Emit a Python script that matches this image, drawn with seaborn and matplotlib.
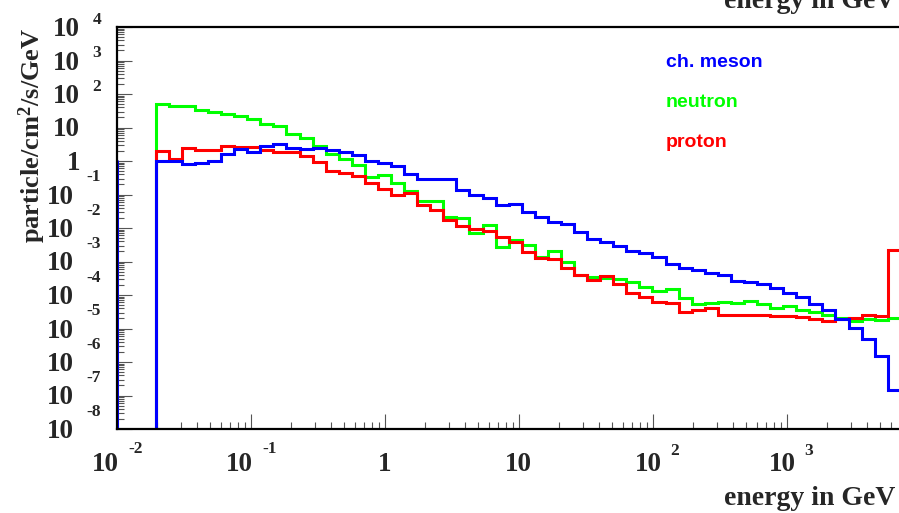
import numpy as np
import pandas as pd
import matplotlib
matplotlib.use("Agg")
import matplotlib.pyplot as plt
import matplotlib.transforms as mtransforms
from matplotlib.ticker import LogLocator, NullFormatter
import seaborn as sns

# ---- energy binning (GeV), logarithmic ----
E_MIN, E_MAX, N_BINS = 0.01955, 7100.0, 57
X_RANGE = (0.01, 7000.0)
Y_RANGE = (1e-8, 1e4)

# ---- flux per bin (particle/cm^2/s/GeV) ----
meson = [0.98, 1.0, 0.80, 0.87, 1.03, 1.66, 2.28, 1.82, 2.75, 3.2,
         2.5, 2.3, 2.44, 2.2, 1.86, 1.48, 0.98, 0.90, 0.69, 0.42,
         0.30, 0.30, 0.30, 0.133, 0.099, 0.079, 0.050, 0.051, 0.030, 0.022,
         0.015, 0.0129, 0.0076, 0.0048, 0.0038, 0.0029, 0.0020, 0.00185, 0.00135, 0.00087,
         0.00064, 0.00055, 0.00046, 0.00039, 0.00026, 0.00024, 0.00021, 0.000162, 0.000117, 0.000087,
         0.000055, 0.000036, 1.87e-5, 1.06e-5, 5.0e-6, 1.48e-6, 1.5e-7]
neutron = [51.7, 43.8, 43.8, 34.2, 29.0, 24.7, 21.6, 17.9, 13.1, 11.4,
           6.6, 4.9, 2.9, 1.62, 1.14, 0.76, 0.33, 0.39, 0.224, 0.13,
           0.062, 0.062, 0.021, 0.020, 0.0072, 0.0124, 0.0028, 0.0045, 0.0031, 0.00135,
           0.0020, 0.00097, 0.00039, 0.00035, 0.00032, 0.00031, 0.00025, 0.000174, 0.000132, 0.000155,
           0.000081, 0.000055, 0.000058, 0.000062, 0.000058, 0.000065, 0.000055, 0.000041, 0.000046, 0.000035,
           0.000032, 2.46e-5, 2.05e-5, 1.67e-5, 1.87e-5, 1.85e-5, 1.99e-5]
proton = [1.99, 1.18, 2.51, 2.19, 2.19, 2.8, 2.6, 2.6, 2.09, 1.82,
          1.91, 1.45, 0.93, 0.52, 0.43, 0.36, 0.224, 0.142, 0.10, 0.112,
          0.049, 0.034, 0.017, 0.0115, 0.0095, 0.0083, 0.0054, 0.0038, 0.0019, 0.0013,
          0.00117, 0.00066, 0.00039, 0.00029, 0.00037, 0.00022, 0.000115, 0.000087, 0.000062, 0.000058,
          0.000032, 0.000035, 0.000041, 0.000026, 0.000026, 0.000026, 0.000026, 0.000024, 0.000024, 2.19e-5,
          1.87e-5, 1.63e-5, 1.87e-5, 2.05e-5, 2.46e-5, 2.30e-5, 0.00226]

# ---- axis labels ----
X_TICK_VALUES = [1e-2, 1e-1, 1.0, 10.0, 1e2, 1e3]
X_TICK_BASE = ["10", "10", "1", "10", "10", "10"]
X_TICK_EXP = ["-2", "-1", "", "", "2", "3"]
Y_TICK_VALUES = [1e4, 1e3, 1e2, 1e1, 1e0, 1e-1, 1e-2, 1e-3, 1e-4, 1e-5, 1e-6, 1e-7, 1e-8]
Y_TICK_BASE = ["10", "10", "10", "10", "1", "10", "10", "10", "10", "10", "10", "10", "10"]
Y_TICK_EXP = ["4", "3", "2", "", "", "-1", "-2", "-3", "-4", "-5", "-6", "-7", "-8"]
X_TITLE = "energy in GeV"
Y_TITLE = r"particle/cm$^{2}$/s/GeV"

SERIES = [  # drawing order: neutron, proton, then mesons on top
    ("neutron", neutron, "#00ff00"),
    ("proton", proton, "#ff0000"),
    ("ch. meson", meson, "#0000ff"),
]
LEGEND_ORDER = ["ch. meson", "neutron", "proton"]

sns.set_theme(style="white")
plt.rcParams.update({
    "font.family": ["Liberation Serif", "DejaVu Serif"],
    "font.weight": "bold",
    "mathtext.fontset": "custom",
    "mathtext.rm": "Liberation Serif:bold",
    "mathtext.it": "Liberation Serif:bold",
    "mathtext.bf": "Liberation Serif:bold",
    "axes.edgecolor": "black",
})

W, H, DPI = 899, 513, 100
fig = plt.figure(figsize=(W / DPI, H / DPI), dpi=DPI)
fig.patch.set_facecolor("white")
L, R, T, B = 116.7, 900.0, 27.0, 429.0
ax = fig.add_axes([L / W, (H - B) / H, (R - L) / W, (B - T) / H])
ax.set_xscale("log")
ax.set_yscale("log")
ax.set_xlim(*X_RANGE)
ax.set_ylim(*Y_RANGE)

edges = np.geomspace(E_MIN, E_MAX, N_BINS + 1)
floor = Y_RANGE[0] * 0.1


def outline(values):
    xs = np.repeat(edges, 2)
    ys = np.concatenate([[floor], np.repeat(values, 2), [floor]])
    return xs, ys


for name, vals, col in SERIES:
    xs, ys = outline(np.asarray(vals, float))
    df = pd.DataFrame({"energy": xs, "flux": ys})
    sns.lineplot(data=df, x="energy", y="flux", sort=False, estimator=None,
                 color=col, linewidth=2.2, legend=False, ax=ax,
                 solid_joinstyle="miter", solid_capstyle="butt")

# meson histogram also runs down the lower frame edge
sns.lineplot(x=[X_RANGE[0] * 1.004] * 2, y=[floor, meson[0]], sort=False,
             estimator=None, color="#0000ff", linewidth=2.2, legend=False, ax=ax)

ax.set_xlabel("")
ax.set_ylabel("")

# frame (ROOT style: ticks inward on bottom/left)
for side in ["top", "left", "bottom"]:
    ax.spines[side].set_linewidth(1.6)
    ax.spines[side].set_color("black")
ax.spines["right"].set_visible(False)
ax.xaxis.set_major_locator(LogLocator(base=10, numticks=20))
ax.xaxis.set_minor_locator(LogLocator(base=10, subs=np.arange(2, 10), numticks=20))
ax.yaxis.set_major_locator(LogLocator(base=10, numticks=30))
ax.yaxis.set_minor_locator(LogLocator(base=10, subs=np.arange(2, 10), numticks=30))
ax.xaxis.set_minor_formatter(NullFormatter())
ax.yaxis.set_minor_formatter(NullFormatter())
ax.tick_params(which="both", direction="in", bottom=True, left=True, top=False, right=False,
               labelbottom=False, labelleft=False, color="#555555", width=0.8)
ax.tick_params(which="major", length=10.5)
ax.tick_params(which="minor", length=5.0)
ax.set_xlim(*X_RANGE)
ax.set_ylim(*Y_RANGE)


def shift(dx_px, dy_px):
    return mtransforms.ScaledTranslation(dx_px / DPI, -dy_px / DPI, fig.dpi_scale_trans)


BASE_FS, EXP_FS, TITLE_FS = 19.5, 12.5, 19
ty = mtransforms.blended_transform_factory(ax.transAxes, ax.transData)
for v, base, ex in zip(Y_TICK_VALUES, Y_TICK_BASE, Y_TICK_EXP):
    if ex:
        neg = ex.startswith("-")
        ax.text(0, v, ex, transform=ty + shift(-15.5, -13.4 if neg else -3.4),
                ha="right", va="baseline", fontsize=EXP_FS, fontweight="bold", clip_on=False)
        ax.text(0, v, base, transform=ty + shift(-43 if neg else -36.7, 9),
                ha="right", va="baseline", fontsize=BASE_FS, fontweight="bold", clip_on=False)
    else:
        ax.text(0, v, base, transform=ty + shift(-36.7, 9),
                ha="right", va="baseline", fontsize=BASE_FS, fontweight="bold", clip_on=False)

tx = mtransforms.blended_transform_factory(ax.transData, ax.transAxes)
for v, base, ex in zip(X_TICK_VALUES, X_TICK_BASE, X_TICK_EXP):
    if ex:
        neg = ex.startswith("-")
        bx = 2.0 if neg else 9.0
        ax.text(v, 0, base, transform=tx + shift(bx, 42),
                ha="right", va="baseline", fontsize=BASE_FS, fontweight="bold", clip_on=False)
        ax.text(v, 0, ex, transform=tx + shift(bx + (10 if neg else 9), 23.6 if neg else 26),
                ha="left", va="baseline", fontsize=EXP_FS, fontweight="bold", clip_on=False)
    else:
        ax.text(v, 0, base, transform=tx + shift(0, 42),
                ha="center", va="baseline", fontsize=BASE_FS, fontweight="bold", clip_on=False)

# axis titles
fig.text(895 / W, 1 - 505 / H, X_TITLE, ha="right", va="baseline",
         fontsize=20, fontweight="bold")
fig.text(895 / W, 1 - 7.5 / H, X_TITLE, ha="right", va="baseline",
         fontsize=20, fontweight="bold")
fig.text(32 / W, 1 - 28 / H, Y_TITLE, rotation=90, ha="center", va="top",
         fontsize=TITLE_FS, fontweight="bold")

# series labels
colors = {name: col for name, _, col in SERIES}
for i, name in enumerate(LEGEND_ORDER):
    fig.text(665.7 / W, 1 - (66.7 + 40 * i) / H, name, color=colors[name],
             ha="left", va="baseline", fontsize=14, fontweight="bold",
             family=["Liberation Sans", "DejaVu Sans"])

fig.savefig("out.png", dpi=DPI, facecolor="white")
